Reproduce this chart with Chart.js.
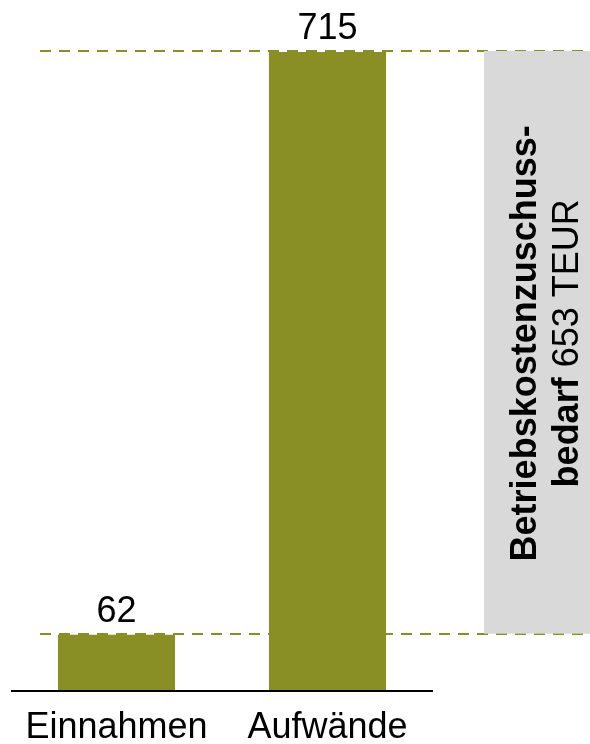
<!DOCTYPE html>
<html>
<head>
<meta charset="utf-8">
<script src="https://cdn.jsdelivr.net/npm/chart.js@4"></script>
<style>
  html, body { margin: 0; padding: 0; background: #fff; }
  #wrap { width: 590px; height: 744px; }
</style>
</head>
<body>
<div id="wrap"><canvas id="chart"></canvas></div>
<script>
const categories = ['Einnahmen', 'Aufwände']
const values     = [62, 715]
const gapLabel   = ['Betriebskostenzuschuss-', 'bedarf', ' 653 TEUR']

const olive = '#898f25'
const fontFamily = '"Liberation Sans", Arial, sans-serif'

// value labels, category labels, baseline, dashed guides and the grey box
const overlay = {
  id: 'overlay',
  afterDatasetsDraw(chart) {
    const ctx = chart.ctx
    const x = chart.scales.x
    const y = chart.scales.y
    const area = chart.chartArea
    const yLow = y.getPixelForValue(Math.min(...values))
    const yHigh = y.getPixelForValue(Math.max(...values))

    ctx.save()

    // dashed guides
    ctx.strokeStyle = olive
    ctx.lineWidth = 2
    ctx.setLineDash([11, 8])
    values.forEach(v => {
      const py = Math.round(y.getPixelForValue(v)) - 1
      ctx.beginPath()
      ctx.moveTo(40, py)
      ctx.lineTo(chart.width, py)
      ctx.stroke()
    })
    ctx.setLineDash([])

    // grey box for the difference
    ctx.fillStyle = '#d9d9d9'
    ctx.fillRect(484, yHigh - 1, chart.width - 484, yLow - yHigh)

    // baseline
    ctx.strokeStyle = '#000'
    ctx.lineWidth = 2
    ctx.beginPath()
    ctx.moveTo(area.left, area.bottom + 1)
    ctx.lineTo(area.right, area.bottom + 1)
    ctx.stroke()

    // value labels and category labels
    ctx.fillStyle = '#000'
    ctx.font = '36px ' + fontFamily
    ctx.textAlign = 'center'
    ctx.textBaseline = 'alphabetic'
    values.forEach((v, i) => {
      const px = x.getPixelForValue(i)
      ctx.fillText(String(v), px, y.getPixelForValue(v) - 13)
      ctx.fillText(categories[i], px, area.bottom + 48)
    })

    // rotated text in the box
    const cx = 537
    const cy = (yHigh + yLow) / 2
    ctx.translate(cx, cy)
    ctx.rotate(-Math.PI / 2)
    ctx.font = 'bold 36px ' + fontFamily
    ctx.textAlign = 'center'
    ctx.fillText(gapLabel[0], 0, -1)

    ctx.textAlign = 'left'
    const wBold = ctx.measureText(gapLabel[1]).width
    ctx.font = '36px ' + fontFamily
    const wReg = ctx.measureText(gapLabel[2]).width
    const start = -(wBold + wReg) / 2
    ctx.font = 'bold 36px ' + fontFamily
    ctx.fillText(gapLabel[1], start, 41)
    ctx.font = '36px ' + fontFamily
    ctx.fillText(gapLabel[2], start + wBold, 41)

    ctx.restore()
  }
}

new Chart(document.getElementById('chart'), {
  type: 'bar',
  data: {
    labels: categories,
    datasets: [{
      data: values,
      backgroundColor: olive,
      borderWidth: 0,
      barPercentage: 0.555,
      categoryPercentage: 1
    }]
  },
  options: {
    responsive: true,
    maintainAspectRatio: false,
    animation: false,
    layout: { padding: { left: 11, right: 157, top: 52, bottom: 54 } },
    plugins: {
      legend: { display: false },
      tooltip: { enabled: false }
    },
    scales: {
      x: { display: false },
      y: { display: false, min: 0, max: 715 }
    }
  },
  plugins: [overlay]
})
</script>
</body>
</html>
